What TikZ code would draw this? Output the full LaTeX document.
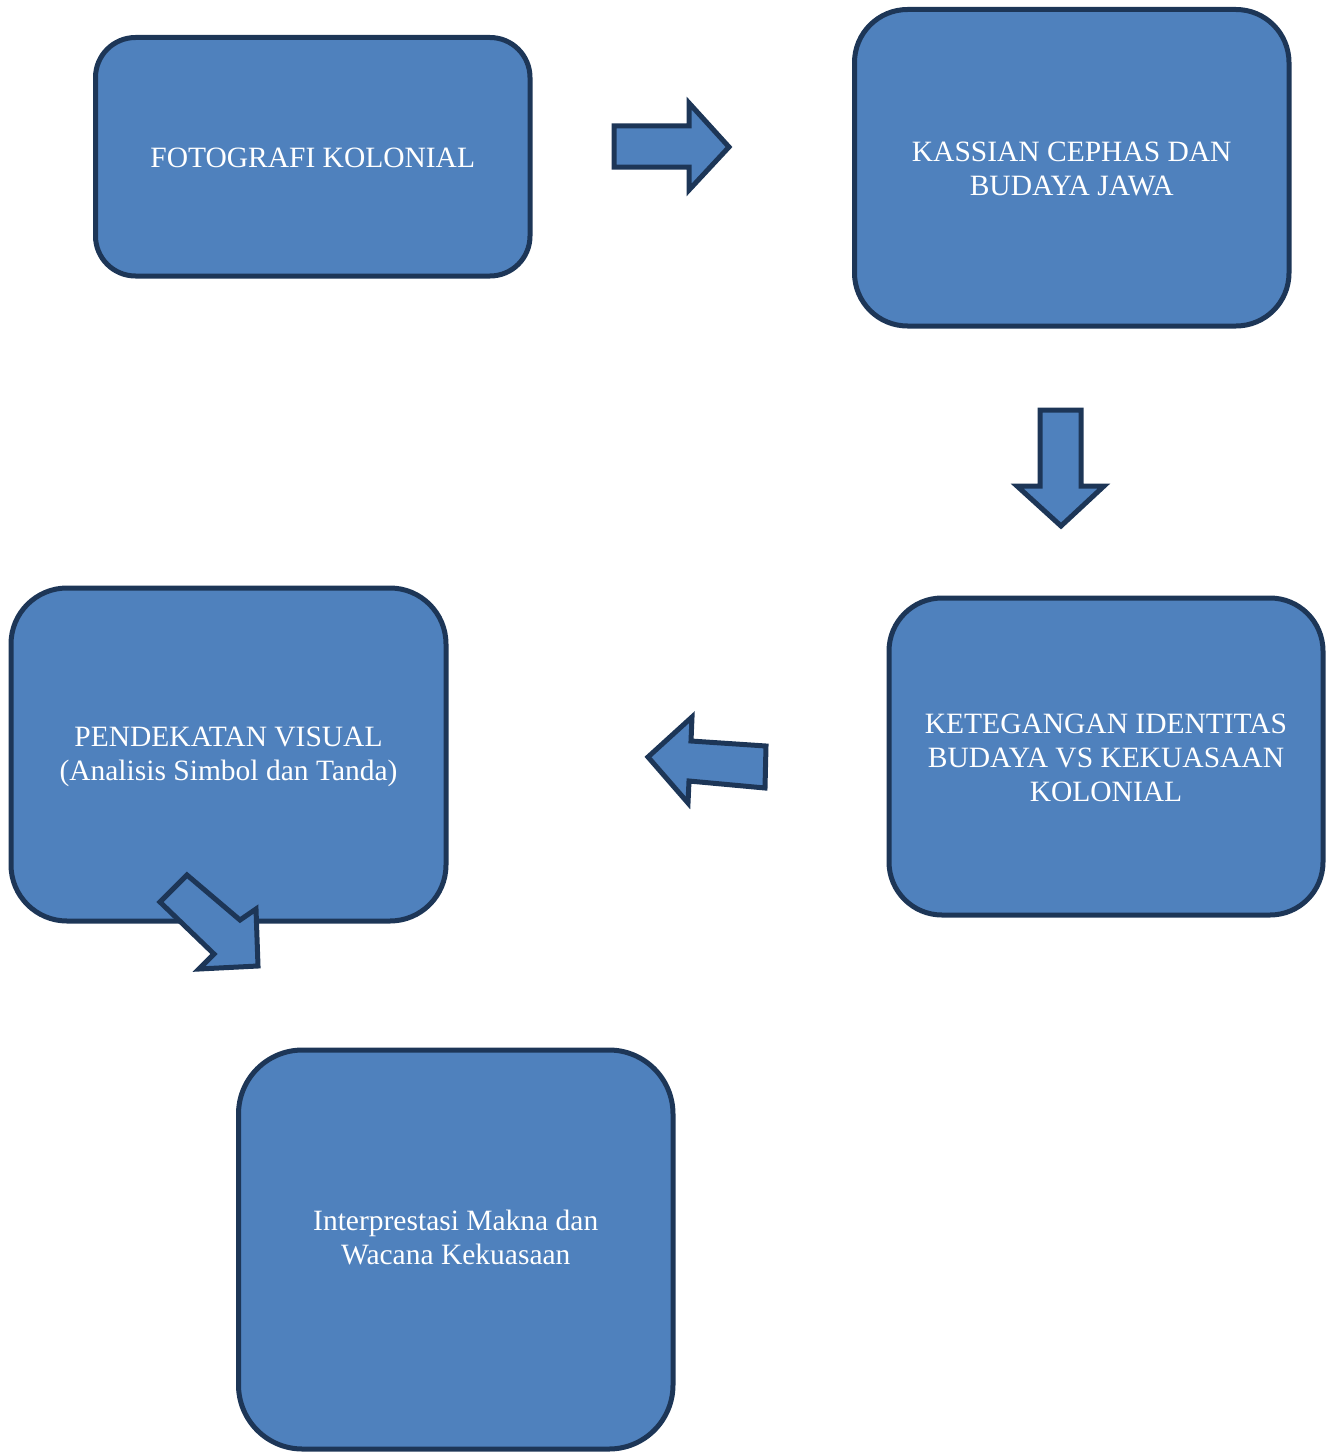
\documentclass[tikz,border=0pt]{standalone}
\usepackage{fontspec}
\setmainfont{Liberation Serif}
\definecolor{boxfill}{HTML}{4F81BD}
\definecolor{boxline}{HTML}{1D3657}
\begin{document}
\begin{tikzpicture}[x=1pt,y=-1pt,
  flowbox/.style={draw=boxline,fill=boxfill,line width=5pt,inner sep=0pt},
  boxtext/.style={text=white,align=center,inner sep=0pt,font=\fontsize{29.5}{34}\selectfont},
  blockarrow/.style={draw=boxline,fill=boxfill,line width=5pt,line join=miter}]
\useasboundingbox (0,0) rectangle (1327,1453);
\node[flowbox,rounded corners=40pt,minimum width=434.5pt,minimum height=238.5pt] (b1) at (312.75,156.75) {};
\node[flowbox,rounded corners=53pt,minimum width=434.5pt,minimum height=316.5pt] (b2) at (1071.75,167.75) {};
\node[flowbox,rounded corners=53pt,minimum width=434pt,minimum height=317pt] (b3) at (1106,756.5) {};
\node[flowbox,rounded corners=56pt,minimum width=435pt,minimum height=333pt] (b4) at (228.5,754.5) {};
\node[flowbox,rounded corners=64pt,minimum width=434.5pt,minimum height=399pt] (b5) at (455.75,1249.5) {};
\node[boxtext] (t1) at (312.75,158) {FOTOGRAFI KOLONIAL};
\node[boxtext] (t2) at (1071.75,169) {KASSIAN CEPHAS DAN\\BUDAYA JAWA};
\node[boxtext] (t3) at (1106,758) {KETEGANGAN IDENTITAS\\BUDAYA VS KEKUASAAN\\KOLONIAL};
\node[boxtext] (t4) at (228.5,757) {PENDEKATAN VISUAL\\(Analisis Simbol dan Tanda)};
\node[boxtext] (t5) at (455.75,1237) {Interprestasi Makna dan\\Wacana Kekuasaan};
% arrows
\draw[blockarrow] (614,126) -- (689,126) -- (689,103) -- (729,147) -- (689,190) -- (689,167) -- (614,167) -- cycle;
\draw[blockarrow] (1040,410) -- (1081,410) -- (1081,486) -- (1104,486) -- (1061,526) -- (1017,486) -- (1040,486) -- cycle;
\draw[blockarrow] (648,757) -- (692,717) -- (691,741) -- (766,746) -- (765,788) -- (689,781) -- (688,803) -- cycle;
\draw[blockarrow] (187,875) -- (240,920) -- (256,909) -- (258,966) -- (199,969) -- (214,954) -- (160,902) -- cycle;
\end{tikzpicture}
\end{document}
